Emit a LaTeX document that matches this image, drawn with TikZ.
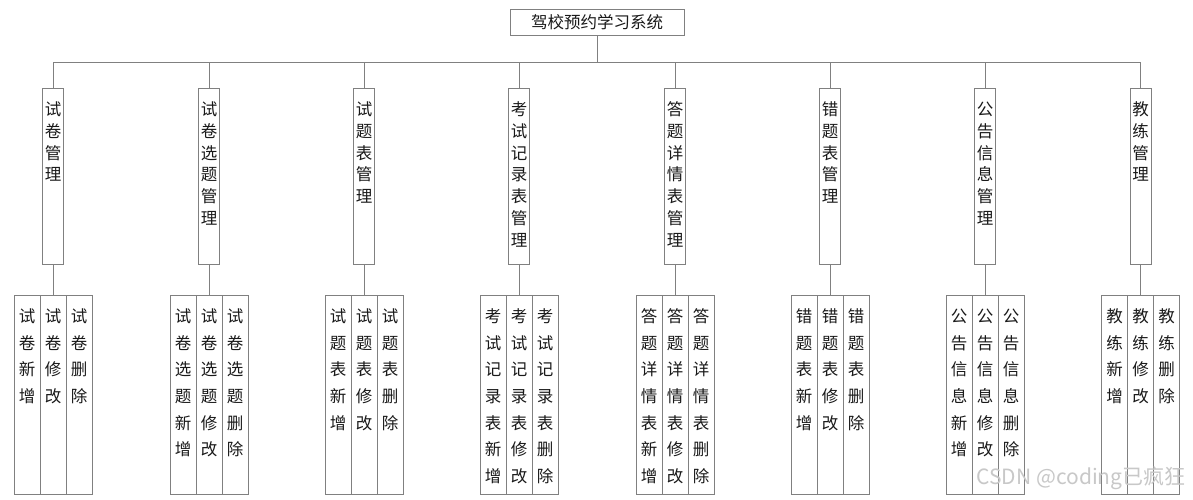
\documentclass[tikz,border=0pt]{standalone}
\usepackage{fontspec}
\setmainfont{Noto Sans CJK SC}
\definecolor{linegray}{RGB}{128,128,128}
\definecolor{txt}{RGB}{25,25,25}
\definecolor{wmgray}{RGB}{200,200,200}
\def\chsplit#1{\chsplitA#1\relax}
\def\chsplitA#1#2\relax{#1\ifx\relax#2\relax\else\\\chsplitA#2\relax\fi}
\newcommand\vstack[1]{\edef\tmpvs{#1}\expandafter\chsplit\expandafter{\tmpvs}}
\newcommand\midtext[1]{\parbox[t][176pt][t]{21pt}{\centering\fontsize{16.5}{21.7}\selectfont\rule{0pt}{27.4pt}\vstack{#1}}}
\newcommand\leaftext[1]{\parbox[t][199pt][t]{26pt}{\centering\fontsize{16.5}{26.7}\selectfont\rule{0pt}{27pt}\vstack{#1}}}
\tikzset{
  conn/.style={draw=linegray, line width=0.9pt},
  rootbox/.style={draw=linegray, line width=0.9pt, fill=white, minimum width=174pt, minimum height=26.5pt, inner sep=0pt, text=txt, font=\fontsize{16.5}{20}\selectfont},
  midbox/.style={draw=linegray, line width=0.9pt, inner sep=0pt, anchor=north, text=txt},
  leafbox/.style={draw=linegray, line width=0.9pt, inner sep=0pt, anchor=north, text=txt},
  wmark/.style={text=wmgray, inner sep=0pt, font=\fontsize{21}{21}\selectfont}
}
\begin{document}
\begin{tikzpicture}[x=1pt,y=-1pt]
\fill[white] (0,0) rectangle (1193,500);
\useasboundingbox (0,0) rectangle (1193,500);
\node[rootbox] (root) at (597,22.5) {驾校预约学习系统};
\coordinate (bus) at (597,62);
\draw[conn] (root.south) -- (bus);
\foreach \i/\cx/\pre in {1/53/试卷, 2/209/试卷选题, 3/364/试题表, 4/519/考试记录表, 5/675/答题详情表, 6/830/错题表, 7/985/公告信息, 8/1140.5/教练}{
  \node[midbox] (m\i) at (\cx,88) {\midtext{\pre 管理}};
  \draw[conn] (bus) -| (m\i.north);
  \node[leafbox] (l\i-1) at (\cx-26,295) {\leaftext{\pre 新增}};
  \node[leafbox] (l\i-2) at (\cx,295) {\leaftext{\pre 修改}};
  \node[leafbox] (l\i-3) at (\cx+26,295) {\leaftext{\pre 删除}};
  \draw[conn] (m\i.south) -- (l\i-2.north);
}
\node[wmark] (wm) at (1081,478) {CSDN @coding已疯狂};
\end{tikzpicture}
\end{document}
